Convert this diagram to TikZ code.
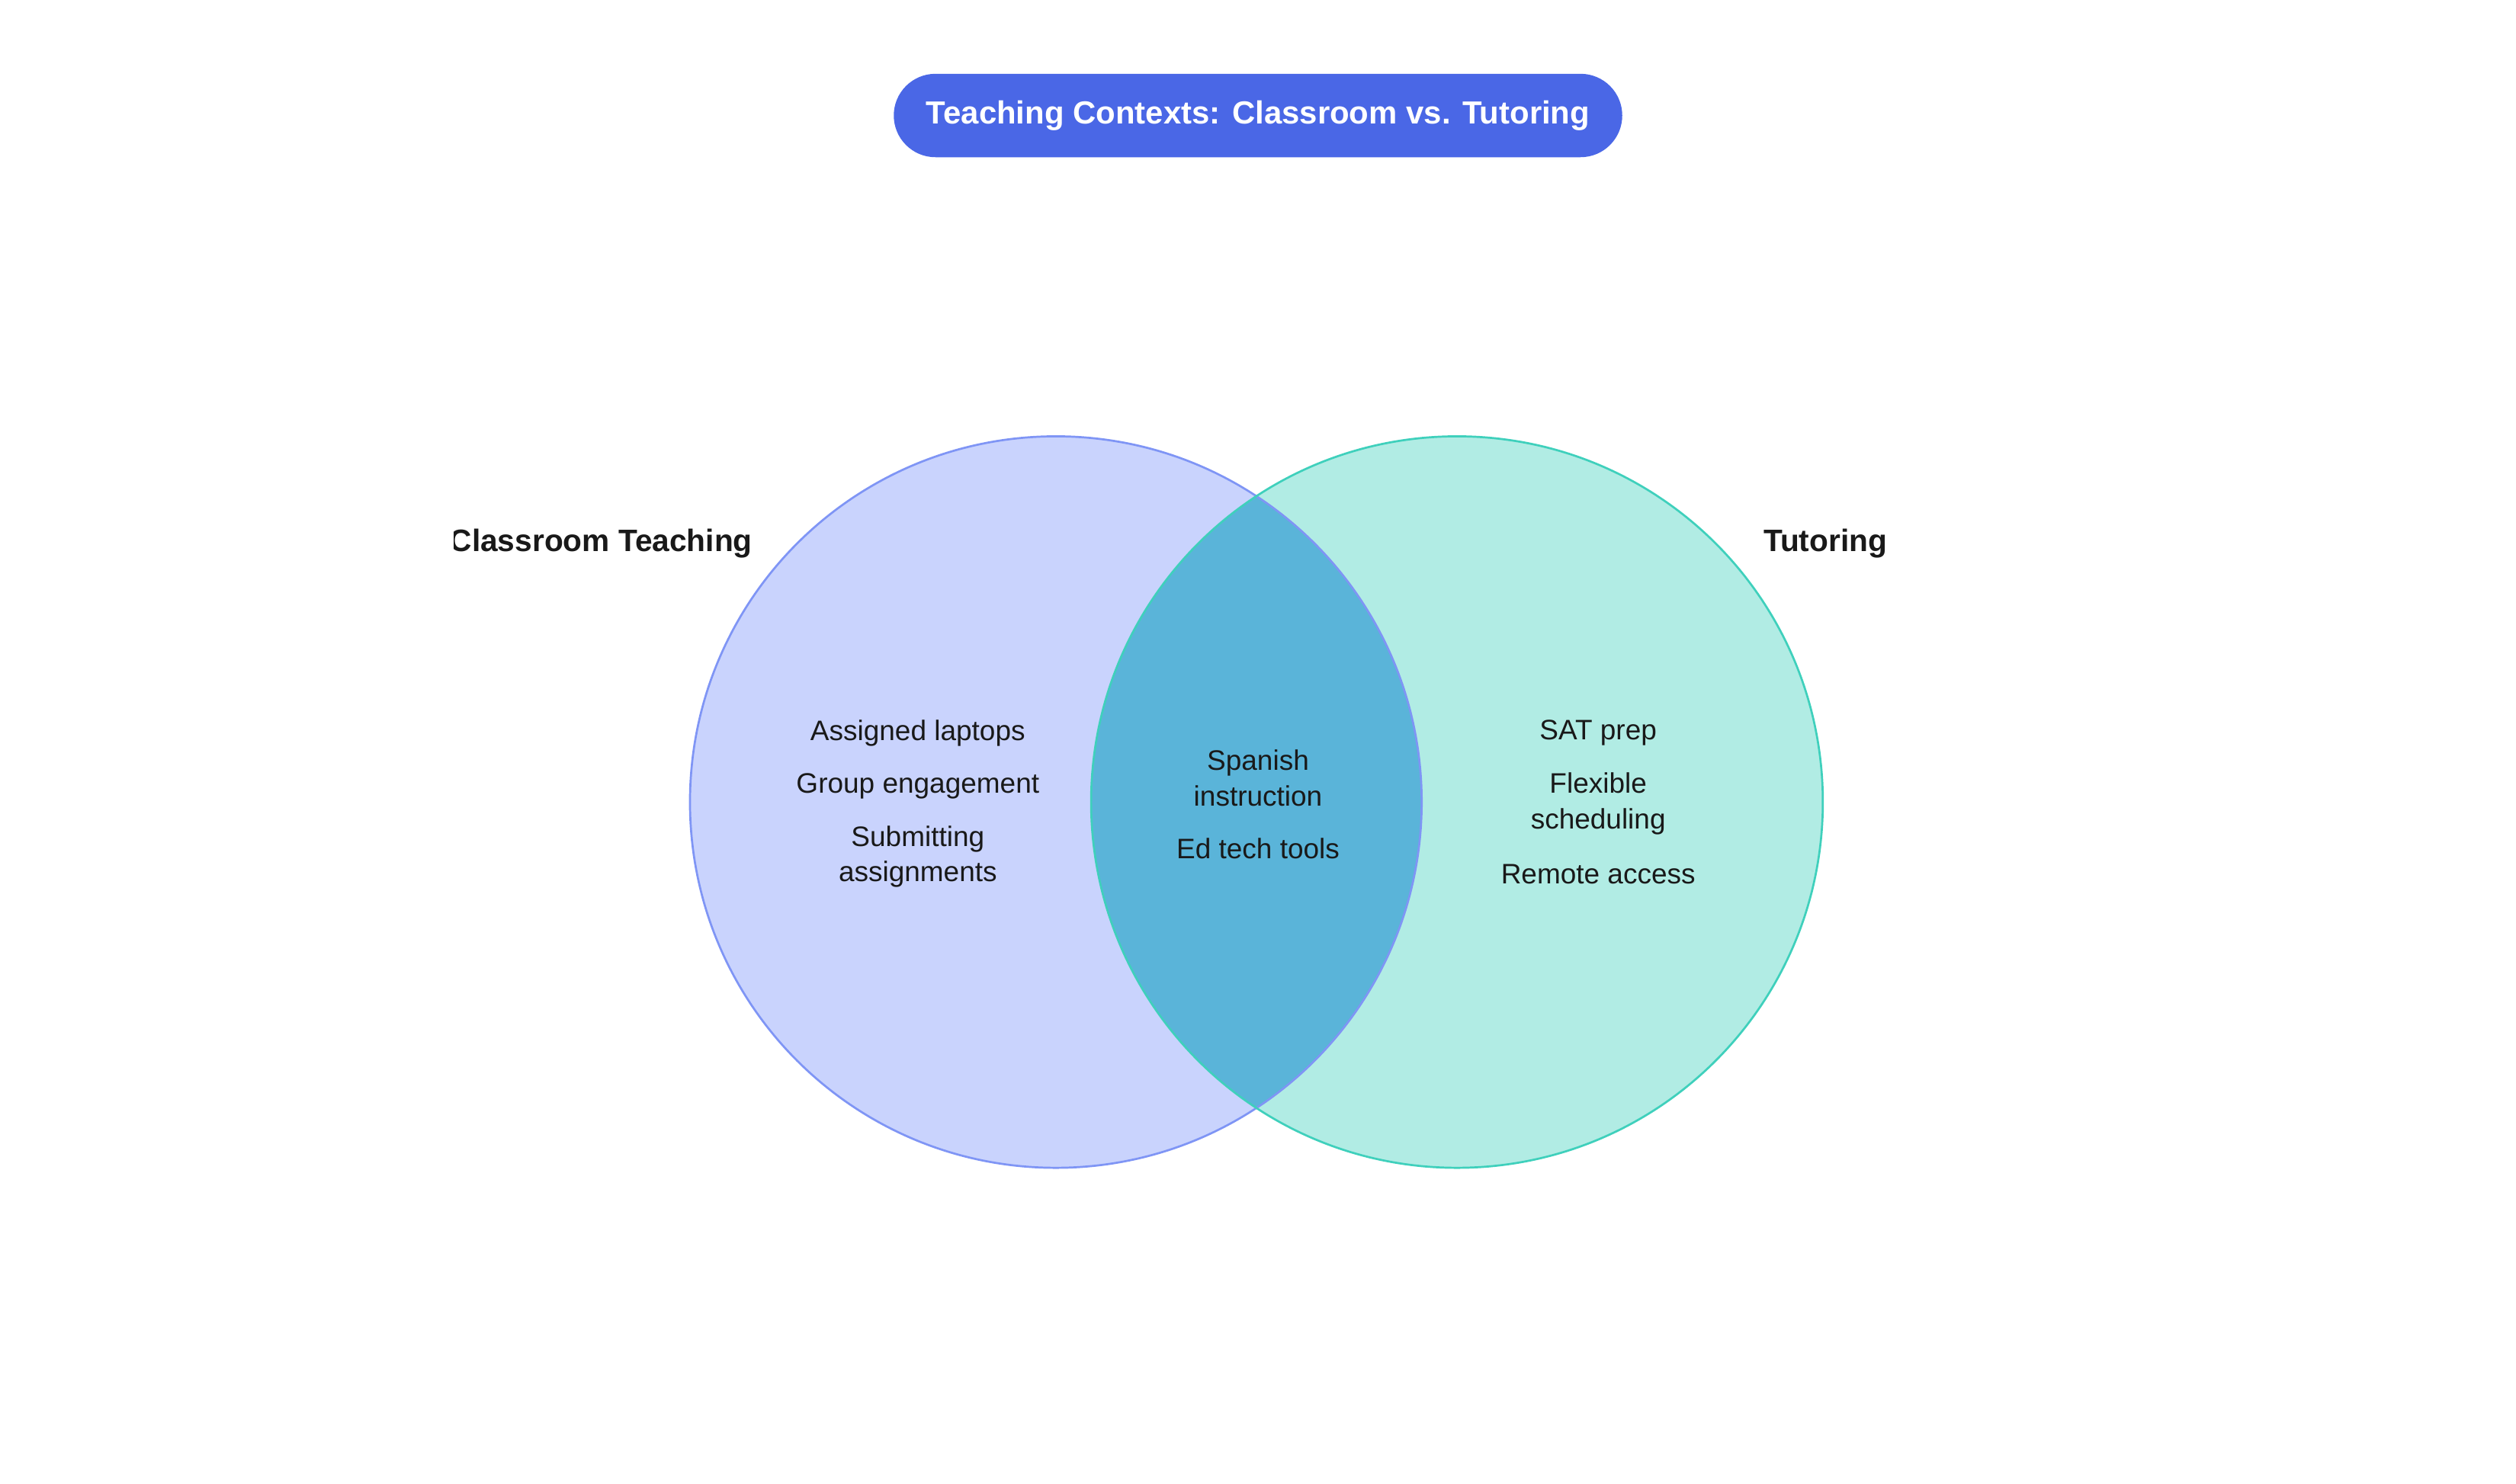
\documentclass[tikz,border=0pt]{standalone}
\usepackage{fontspec}
\setmainfont{Liberation Sans}
\definecolor{classFill}{HTML}{C9D3FD}
\definecolor{classLine}{HTML}{7F95F5}
\definecolor{tutorFill}{HTML}{B1ECE4}
\definecolor{tutorLine}{HTML}{3FD0BC}
\definecolor{bothFill}{HTML}{5AB4D9}
\definecolor{titleFill}{HTML}{4A67E6}
\begin{document}
\begin{tikzpicture}[x=0.3mm,y=-0.3mm,
  item/.style={align=center,font=\fontsize{15}{19}\selectfont,text=black!90},
  setlabel/.style={font=\bfseries\fontsize{16.5}{20}\selectfont,text=black!90}]
\useasboundingbox (0,0) rectangle (1568,925);
% circles
\fill [classFill] (658,500) circle (228);
\fill [tutorFill] (908,500) circle (228);
\begin{scope}
\clip (658,500) circle (228);
\fill [bothFill] (908,500) circle (228);
\end{scope}
\draw [classLine, line width=1.1pt] (658,500) circle (228);
\draw [tutorLine, line width=1.1pt] (908,500) circle (228);
% title
\node [fill=titleFill, rounded corners=26*0.3mm, minimum width=454*0.3mm, minimum height=52*0.3mm,
  text=white, font=\bfseries\fontsize{17}{20}\selectfont] (title) at (784,72) {Teaching Contexts: Classroom vs. Tutoring};
% set labels
\begin{scope}
\clip (283,300) rectangle (700,380);
\node [setlabel, anchor=east] (classroom) at (473,339) {Classroom Teaching};
\end{scope}
\node [setlabel, anchor=west] (tutoring) at (1095,339) {Tutoring};
% items
\node [item] (laptops) at (572,457) {Assigned laptops};
\node [item] (group) at (572,490) {Group engagement};
\node [item] (submit) at (572,534) {Submitting\\assignments};
\node [item] (spanish) at (784,485) {Spanish\\instruction};
\node [item] (edtech) at (784,529) {Ed tech tools};
\node [item] (sat) at (996,457) {SAT prep};
\node [item] (flex) at (996,501) {Flexible\\scheduling};
\node [item] (remote) at (996,545) {Remote access};
\end{tikzpicture}
\end{document}
